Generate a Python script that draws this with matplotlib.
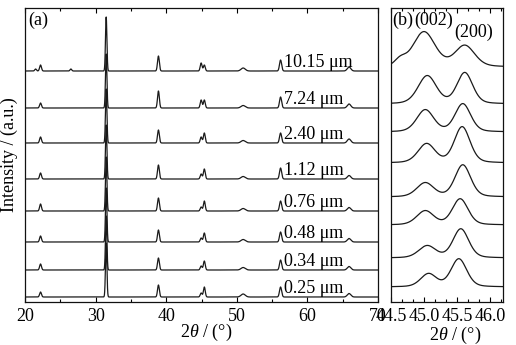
import numpy as np
import matplotlib
matplotlib.use("Agg")
import matplotlib.pyplot as plt
from matplotlib.ticker import MultipleLocator

plt.rcParams['font.family'] = ['Liberation Serif', 'DejaVu Serif']
plt.rcParams['mathtext.fontset'] = 'custom'
plt.rcParams['mathtext.rm'] = 'Liberation Serif'
plt.rcParams['mathtext.it'] = 'Liberation Serif:italic'

# ---------------- data ----------------
sizes = ["10.15 μm", "7.24 μm", "2.40 μm", "1.12 μm", "0.76 μm", "0.48 μm", "0.34 μm", "0.25 μm"]

# panel (a): peak positions (2theta, deg), widths, and heights per sample
peak_pos = [21.5, 22.2, 26.5, 31.5, 38.9, 44.95, 45.4, 50.9, 56.2, 65.9]
peak_wid = [0.12, 0.13, 0.12, 0.10, 0.13, 0.13, 0.13, 0.30, 0.15, 0.25]
heights_a = [
    [2, 6, 2, 54, 15, 8, 6, 3.0, 11, 4.0],
    [0, 5, 0, 54, 17, 8, 8, 2.5, 11, 4.0],
    [0, 6, 0, 54, 13, 6, 10, 2.5, 10, 4.0],
    [0, 6, 0, 54, 14, 5, 10, 2.5, 11, 3.5],
    [0, 7, 0, 54, 13, 4, 10, 2.5, 10, 3.5],
    [0, 6, 0, 54, 12, 4, 9, 2.5, 10, 3.5],
    [0, 6, 0, 54, 12, 4, 9, 2.5, 10, 3.5],
    [0, 5, 0, 54, 12, 4, 10, 3.0, 10, 3.5],
]
offsets_a = [231, 194, 159, 123, 91, 60, 32, 5]

# panel (b): (002) and (200) peaks per sample
pos002 = [45.00, 45.05, 45.02, 45.04, 45.02, 45.02, 45.05, 45.07]
h002 = [35, 28, 22, 19, 14, 14, 12, 13]
w002 = [0.17, 0.14, 0.13, 0.13, 0.13, 0.13, 0.13, 0.12]
pos200 = [45.62, 45.62, 45.59, 45.58, 45.59, 45.55, 45.56, 45.53]
h200 = [21, 31, 28, 36, 32, 26, 29, 28]
w200 = [0.15, 0.12, 0.12, 0.12, 0.12, 0.12, 0.12, 0.12]
shoulder_pos = [44.64, 0, 0, 0, 0, 0, 0, 0]
shoulder_h = [6, 0, 0, 0, 0, 0, 0, 0]
offsets_b = [235, 198, 170, 139, 105, 77, 44, 15]


def gauss(x, p, h, w):
    return h * np.exp(-0.5 * ((x - p) / w) ** 2)


def pvoigt(x, p, h, w, eta=0.28):
    hw = 1.1774 * w
    lor = 1.0 / (1.0 + ((x - p) / hw) ** 2)
    gau = np.exp(-0.5 * ((x - p) / w) ** 2)
    return h * ((1 - eta) * gau + eta * lor)


W, H = 516, 345
fig = plt.figure(figsize=(W / 100, H / 100), dpi=100)
axa = fig.add_axes([25 / W, 1 - 302 / H, (378 - 25) / W, 294 / H])
axb = fig.add_axes([391 / W, 1 - 302 / H, (503 - 391) / W, 294 / H])

lc = '#1a1a1a'
xa = np.linspace(20, 70, 8000)
for i in range(len(sizes)):
    y = np.zeros_like(xa)
    for p, w, h in zip(peak_pos, peak_wid, heights_a[i]):
        y += gauss(xa, p, h, w)
    axa.plot(xa, y + offsets_a[i], color=lc, lw=0.9)
    axa.text(56.7, offsets_a[i] + 4, sizes[i], fontsize=13, ha='left', va='baseline')

xb = np.linspace(44.5, 46.2, 800)
for i in range(len(sizes)):
    y = pvoigt(xb, pos002[i], h002[i], w002[i]) + pvoigt(xb, pos200[i], h200[i], w200[i])
    if shoulder_h[i]:
        y += gauss(xb, shoulder_pos[i], shoulder_h[i], 0.08)
    axb.plot(xb, y + offsets_b[i], color=lc, lw=0.9)

axa.set_xlim(20, 70)
axa.set_ylim(0, 294)
axb.set_xlim(44.5, 46.2)
axb.set_ylim(0, 294)

for ax in (axa, axb):
    ax.set_yticks([])
    for s in ax.spines.values():
        s.set_linewidth(0.9)
        s.set_color('#111111')
    ax.tick_params(axis='x', which='both', direction='in', top=True, bottom=True,
                   labelsize=13, pad=4, width=0.8)
    ax.tick_params(axis='x', which='major', length=3.5)
    ax.tick_params(axis='x', which='minor', length=2.5)

axa.xaxis.set_major_locator(MultipleLocator(10))
axa.xaxis.set_minor_locator(MultipleLocator(5))
axb.set_xticks([44.5, 45.0, 45.5, 46.0])
axb.set_xticklabels(['44.5', '45.0', '45.5', '46.0'])
axb.xaxis.set_minor_locator(MultipleLocator(0.5 / 3))

axa.text(20.4, 282, '(a)', fontsize=13, ha='left', va='center')
axb.text(44.515, 282, '(b)', fontsize=13, ha='left', va='center')
axb.text(45.14, 282, '(002)', fontsize=13, ha='center', va='center')
axb.text(45.75, 270, '(200)', fontsize=13, ha='center', va='center')

fig.text(206 / W, 1 - 332 / H, r'2$\theta$ / (°)', fontsize=13, ha='center', va='center')
fig.text(455 / W, 1 - 335 / H, r'2$\theta$ / (°)', fontsize=13, ha='center', va='center')
fig.text(9 / W, 1 - 155 / H, 'Intensity / (a.u.)', fontsize=13, ha='center', va='center',
         rotation=90)

fig.savefig('out.png', dpi=100)
